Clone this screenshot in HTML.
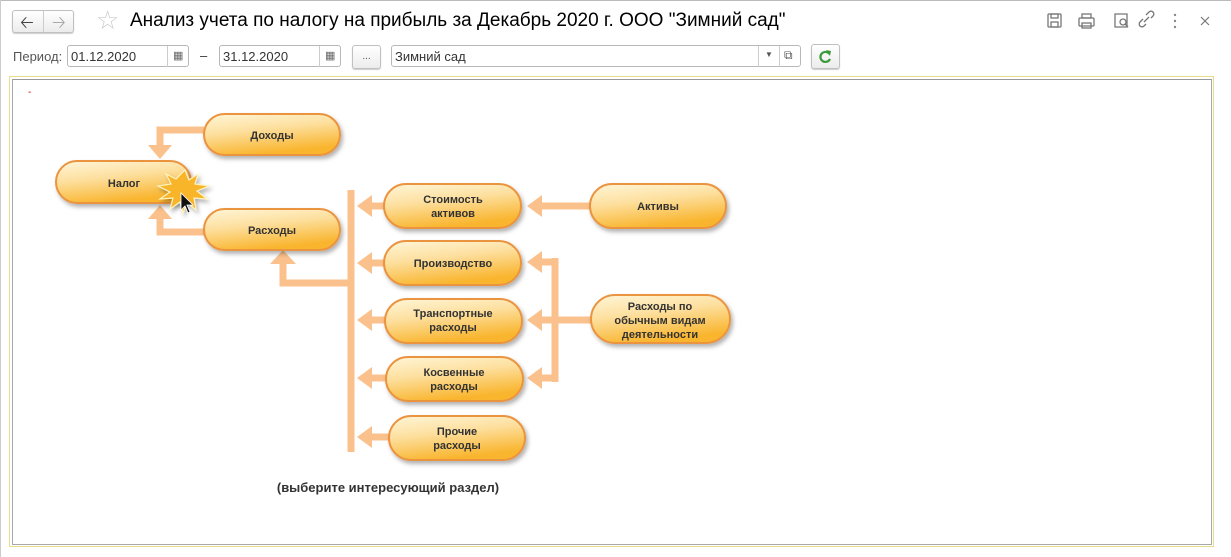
<!DOCTYPE html>
<html><head><meta charset="utf-8"><style>
body{margin:0;width:1231px;height:557px;background:#fff;font-family:"Liberation Sans",Arial,sans-serif;position:relative;overflow:hidden}
.a{position:absolute}
.fld{position:absolute;border:1px solid #b8b8b8;border-radius:3px;height:22px;background:#fff;font-size:13px;line-height:22px;color:#333;box-sizing:border-box;padding-left:3px}
.btn{position:absolute;border:1px solid #c0c0c0;border-radius:3px;background:linear-gradient(#fff,#ececec);box-sizing:border-box;box-shadow:0 1px 1px #ccc}
</style></head><body>
<div class="a" style="left:0;top:0;width:1231px;height:1px;background:#bbb"></div>
<div class="a" style="left:0;top:0;width:1px;height:557px;background:#ccc"></div>
<!-- nav -->
<div class="btn" style="left:12px;top:10px;width:62px;height:23px"></div>
<div class="a" style="left:43px;top:11px;width:1px;height:21px;background:#ccc"></div>
<div class="a" style="left:20px;top:10px;font-size:17px;color:#444">&#129120;</div>
<div class="a" style="left:52px;top:10px;font-size:17px;color:#aaa">&#129122;</div>
<div class="a" style="left:96px;top:5px;font-size:26px;color:#ccc">☆</div>
<div class="a" style="left:130px;top:10px;font-size:19px;color:#000;white-space:nowrap">Анализ учета по налогу на прибыль за Декабрь 2020 г. ООО "Зимний сад"</div>
<!-- right icons -->
<svg class="a" style="left:1040px;top:10px" width="180" height="22">
<g fill="none" stroke="#777" stroke-width="1.3">
<rect x="8" y="4" width="13" height="13" rx="1"/><rect x="11" y="4" width="7" height="4"/><rect x="11" y="12" width="7" height="5"/>
<rect x="39" y="8" width="15" height="8" rx="1"/><rect x="42" y="4" width="9" height="4"/><rect x="42" y="13" width="9" height="5"/>
<path d="M75 4h12v13h-12z"/><circle cx="83" cy="12" r="3"/><path d="M85 14l3 3"/>
<path d="M106 14l-2 2a2.5 2.5 0 0 1-4-4l3-3M111 8l2-2a2.5 2.5 0 0 0-4-4l-3 3M104 12l5-5"/>
</g>
<g fill="#888"><circle cx="135" cy="5" r="1.2"/><circle cx="135" cy="11" r="1.2"/><circle cx="135" cy="17" r="1.2"/></g>
<path d="M161 7l8 8M169 7l-8 8" stroke="#777" stroke-width="1.2"/>
</svg>
<!-- period row -->
<div class="a" style="left:13px;top:49px;font-size:13px;color:#555">Период:</div>
<div class="fld" style="left:67px;top:45px;width:122px">01.12.2020</div>
<div class="a" style="left:167px;top:46px;width:1px;height:21px;background:#ccc"></div>
<div class="a" style="left:173px;top:49px;font-size:11px;color:#666">▦</div>
<div class="a" style="left:200px;top:48px;font-size:13px;color:#333">–</div>
<div class="fld" style="left:219px;top:45px;width:122px">31.12.2020</div>
<div class="a" style="left:319px;top:46px;width:1px;height:21px;background:#ccc"></div>
<div class="a" style="left:325px;top:49px;font-size:11px;color:#666">▦</div>
<div class="btn" style="left:352px;top:45px;width:29px;height:24px;font-size:10px;text-align:center;line-height:22px;color:#555">...</div>
<div class="fld" style="left:391px;top:45px;width:410px">Зимний сад</div>
<div class="a" style="left:758px;top:46px;width:1px;height:21px;background:#ccc"></div>
<div class="a" style="left:779px;top:46px;width:1px;height:21px;background:#ccc"></div>
<div class="a" style="left:765px;top:50px;font-size:8px;color:#555">▼</div>
<div class="a" style="left:784px;top:48px;font-size:12px;color:#555">⧉</div>
<div class="btn" style="left:811px;top:44px;width:29px;height:25px"></div>
<svg class="a" style="left:817px;top:49px" width="16" height="16"><path d="M12.5 5A5 5 0 1 0 13 10" fill="none" stroke="#3a9a3a" stroke-width="2.2"/><path d="M9 1l5 1-1 5z" fill="#3a9a3a"/></svg>
<!-- frame -->
<div class="a" style="left:9px;top:76px;width:1203px;height:469px;border:1px solid #e8dc88"></div>
<div class="a" style="left:12px;top:79px;width:1198px;height:464px;border:1px solid #a8a8a8;border-top-color:#999"></div>
<div class="a" style="left:28px;top:87px;font-size:10px;color:#c00">-</div>
<svg class="a" style="left:0;top:0" width="1231" height="557">
<defs>
<linearGradient id="g" x1="0" y1="0" x2="0.35" y2="1"><stop offset="0" stop-color="#fff6d8"/><stop offset="0.45" stop-color="#fde0a0"/><stop offset="1" stop-color="#f9b52e"/></linearGradient>
<filter id="s" x="-10%" y="-20%" width="125%" height="150%"><feDropShadow dx="2" dy="3" stdDeviation="2" flood-color="#000" flood-opacity="0.3"/></filter>
</defs>
<g stroke="#fbc18c" stroke-width="7" fill="none">
<path d="M351 190V452"/>
<path d="M351 283H283V262"/>
<path d="M204 130H160V148"/>
<path d="M204 232H160V216"/>
<path d="M384 206H370M385 263H370M385 320H370M386 378H370M389 437H370"/>
<path d="M590 206H540"/>
<path d="M591 320H555M555 258V382M555 262H540M555 320H540M555 378H540"/>
</g>
<g fill="#fbc18c">
<path d="M270 264L283 250L296 264Z"/>
<path d="M148 145L160 159L172 145Z"/>
<path d="M148 219L160 205L172 219Z"/>
<path d="M372 195L357 206L372 217Z"/><path d="M372 252L357 263L372 274Z"/><path d="M372 309L357 320L372 331Z"/><path d="M372 367L357 378L372 389Z"/><path d="M372 426L357 437L372 448Z"/>
<path d="M542 195L527 206L542 217Z"/><path d="M542 251L527 262L542 273Z"/><path d="M542 309L527 320L542 331Z"/><path d="M542 367L527 378L542 389Z"/>
</g>
<g fill="url(#g)" stroke="#eb9440" stroke-width="2" filter="url(#s)">
<rect x="204" y="114" width="136" height="41" rx="20.5"/>
<rect x="56" y="161" width="135" height="42" rx="21"/>
<rect x="204" y="209" width="136" height="41" rx="20.5"/>
<rect x="384" y="184" width="137" height="44" rx="22"/>
<rect x="590" y="184" width="136" height="44" rx="22"/>
<rect x="384" y="241" width="137" height="44" rx="22"/>
<rect x="385" y="299" width="137" height="44" rx="22"/>
<rect x="386" y="357" width="137" height="44" rx="22"/>
<rect x="389" y="416" width="136" height="44" rx="22"/>
<rect x="591" y="295" width="139" height="48" rx="24"/>
</g>
<path d="M185 170l4 10 9-6-3 10 14 2-12 5 10 8-13-1 2 12-9-8-4 11-3-11-10 7 3-11-13 1 10-7-12-6 13-2-5-10 10 5z" fill="#f8b52a" stroke="#fff3c0" stroke-width="1.2" filter="url(#s)"/>
<path d="M181 193v17l4-4 3 7 2-1-3-7 6 0z" fill="#111" stroke="#fff" stroke-width="0.8"/>
<g font-family="Liberation Sans,Arial,sans-serif" font-weight="bold" font-size="11" fill="#333" text-anchor="middle">
<text x="272" y="139">Доходы</text>
<text x="124" y="187">Налог</text>
<text x="272" y="234">Расходы</text>
<text x="453" y="203">Стоимость</text><text x="453" y="217">активов</text>
<text x="658" y="210">Активы</text>
<text x="453" y="267">Производство</text>
<text x="453" y="317">Транспортные</text><text x="453" y="331">расходы</text>
<text x="454" y="376">Косвенные</text><text x="454" y="390">расходы</text>
<text x="457" y="435">Прочие</text><text x="457" y="449">расходы</text>
<text x="660" y="310">Расходы по</text><text x="660" y="324">обычным видам</text><text x="660" y="338">деятельности</text>
<text x="388" y="492" font-size="13">(выберите интересующий раздел)</text>
</g>
</svg>
</body></html>
